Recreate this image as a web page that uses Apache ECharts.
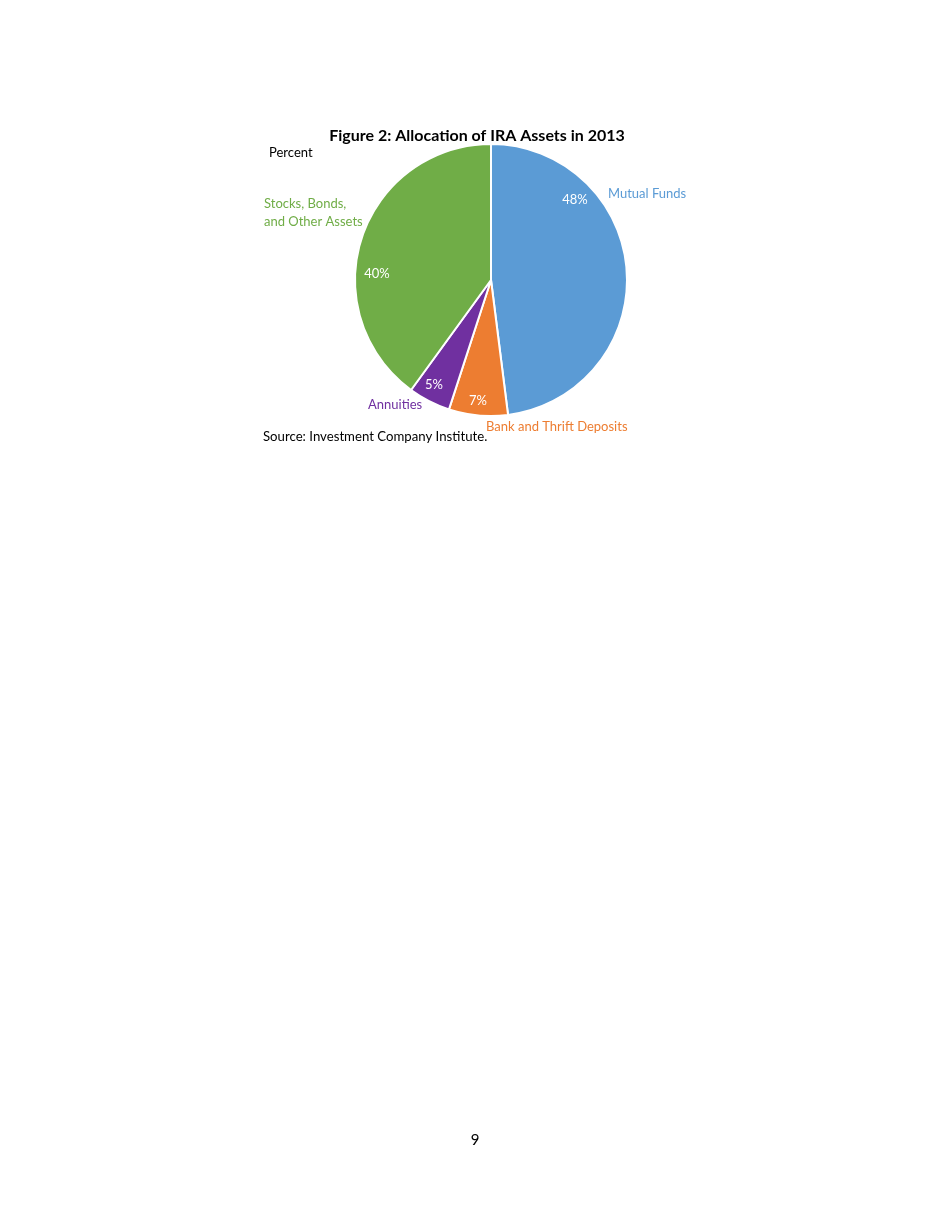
<!DOCTYPE html>
<html><head><meta charset="utf-8">
<script src="https://cdn.jsdelivr.net/npm/echarts@6/dist/echarts.min.js"></script>
<style>html,body{margin:0;padding:0;background:#fff}#c{width:950px;height:1230px}</style>
</head><body><div id="c"></div>
<script>
const categories = ['Mutual Funds', 'Bank and Thrift Deposits', 'Annuities', 'Stocks, Bonds,\nand Other Assets'];
const values = [48, 7, 5, 40];
const colors = ['#5B9BD5', '#ED7D31', '#7030A0', '#70AD47'];
const titleText = 'Figure 2: Allocation of IRA Assets in 2013';
const unitText = 'Percent';
const sourceText = 'Source: Investment Company Institute.';
const pageNumber = '9';

const FONT = 'Lato, "Open Sans", sans-serif';
const data = categories.map((n, i) => ({ name: n, value: values[i], itemStyle: { color: colors[i] } }));

// label placements (text anchor positions)
const pctPos = [[575, 200], [478, 401], [434, 385], [377, 274]];
const namePos = [
  { x: 608, y: 194, align: 'left' },
  { x: 486, y: 427, align: 'left' },
  { x: 368, y: 405, align: 'left' },
  { x: 264, y: 213, align: 'left' }
];

const chart = echarts.init(document.getElementById('c'), null, { renderer: 'canvas' });
chart.setOption({
  animation: false,
  backgroundColor: '#fff',
  graphic: [
    { type: 'text', style: { text: titleText, x: 477, y: 136, align: 'center', verticalAlign: 'middle', font: 'bold 16px ' + FONT, fill: '#000' } },
    { type: 'text', style: { text: unitText, x: 269, y: 153, verticalAlign: 'middle', font: '13px ' + FONT, fill: '#000' } },
    { type: 'text', style: { text: sourceText, x: 263, y: 437, verticalAlign: 'middle', font: '13.2px ' + FONT, fill: '#000' } },
    { type: 'text', style: { text: pageNumber, x: 475, y: 1140, align: 'center', verticalAlign: 'middle', font: '15px ' + FONT, fill: '#000' } }
  ],
  series: [
    {
      type: 'pie',
      center: [491, 280],
      radius: [0, 136],
      startAngle: 90,
      clockwise: true,
      data: data,
      itemStyle: { borderColor: '#fff', borderWidth: 2 },
      label: { show: true, position: 'inside', formatter: '{c}%', color: '#fff', fontSize: 13, fontFamily: FONT },
      labelLine: { show: false },
      labelLayout: function (p) { return { x: pctPos[p.dataIndex][0], y: pctPos[p.dataIndex][1], align: 'center', verticalAlign: 'middle' }; },
      emphasis: { disabled: true },
      z: 2
    },
    {
      type: 'pie',
      center: [491, 280],
      radius: [0, 136],
      startAngle: 90,
      clockwise: true,
      silent: true,
      data: data.map((d, i) => ({ name: d.name, value: d.value, itemStyle: { color: 'rgba(0,0,0,0)', borderWidth: 0 }, label: { color: colors[i] } })),
      label: { show: true, position: 'outside', formatter: '{b}', fontSize: 13, fontFamily: FONT, lineHeight: 18 },
      labelLine: { show: false },
      labelLayout: function (p) { const q = namePos[p.dataIndex]; return { x: q.x, y: q.y, align: q.align, verticalAlign: 'middle' }; },
      emphasis: { disabled: true },
      z: 3
    }
  ]
});
</script></body></html>
